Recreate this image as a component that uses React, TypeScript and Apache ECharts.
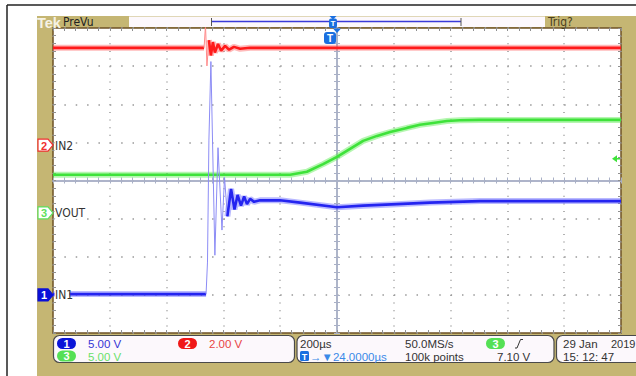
import React, { useEffect, useRef } from "react";
import * as echarts from "echarts";

// ---- acquisition settings ----
const timeMin = -1000; // µs, relative to the screen centre
const timeMax = 1000;
const timePerDiv = 200;
const channelNames = ["IN1", "IN2", "VOUT"];
const channelNumbers = ["1", "2", "3"];
const voltsPerDiv = [5, 2, 5];
const positionDiv = [-3.0, 0.93, -0.85];
const triggerLevel = 7.1; // V on CH3

// ---- CH1 IN1 (V) ----
const in1Before = [[-1000, 0.1], [-461, 0.1]];
const in1Edge = [
  [-461, 0.1], [-456, 4.3], [-451, 20.3], [-444, 30.6], [-430, 5.2], [-419, 19.3],
  [-405, 8.5], [-396, 15.4], [-386, 10.3],
];
const in1After = [
  [-386, 10.3], [-373, 13.9], [-361, 11.2], [-350, 13.1], [-338, 11.7], [-327, 12.9],
  [-317, 11.9], [-306, 12.6], [-292, 12.2], [-271, 12.4], [-201, 12.4], [-130, 12.1],
  [0, 11.5], [92, 11.7], [211, 11.9], [327, 12.1], [504, 12.3], [1000, 12.3],
];

// ---- CH2 IN2 (V) ----
const in2Before = [[-1000, 5.1], [-468, 5.1]];
const in2Spike = [[-468, 5.1], [-463, 6.3], [-458, 4.15], [-451, 5.5]];
const in2After = [
  [-451, 5.5], [-444, 4.7], [-437, 5.4], [-430, 4.85], [-419, 5.3], [-408, 4.95],
  [-394, 5.2], [-380, 5.0], [-363, 5.15], [-341, 5.05], [-306, 5.1], [1000, 5.1],
];

// ---- CH3 VOUT (V) ----
const vout = [
  [-1000, 5.0], [-165, 5.0], [-106, 5.4], [-49, 6.4], [0, 7.35], [46, 8.4], [92, 9.45],
  [141, 10.1], [187, 10.6], [246, 11.15], [292, 11.55], [338, 11.8], [387, 12.05],
  [433, 12.15], [504, 12.2], [1000, 12.2],
];

// ---- readout texts ----
const scaleTexts = ["5.00 V", "2.00 V", "5.00 V"];
const horizTexts = ["200µs", "50.0MS/s", "→▼24.0000µs", "100k points"];
const trigText = "7.10 V";
const dateTexts = ["29 Jan", "2019", "15: 12: 47"];

const FONT = '"Liberation Sans", Arial, sans-serif';
const NARROW = '"Liberation Sans Narrow", "DejaVu Sans Condensed", "Liberation Sans", sans-serif';
const RED = "#ff1a1a";
const GREEN = "#3ee23a";
const BLUE = "#2424f0";
const TBLUE = "#1a6fe0";

function trace(data: number[][], color: string, halo: string, yAxisIndex: number) {
  return [
    { type: "line", data, xAxisIndex: 0, yAxisIndex, symbol: "none", silent: true, z: 2,
      lineStyle: { color: halo, width: 6 }, emphasis: { disabled: true } },
    { type: "line", data, xAxisIndex: 0, yAxisIndex, symbol: "none", silent: true, z: 3,
      lineStyle: { color, width: 2.6 }, emphasis: { disabled: true } },
  ];
}
function thin(data: number[][], color: string, yAxisIndex: number) {
  return [{ type: "line", data, xAxisIndex: 0, yAxisIndex, symbol: "none", silent: true, z: 3,
    lineStyle: { color, width: 1 }, emphasis: { disabled: true } }];
}

function txt(text: string, x: number, y: number, fill: string, size = 11.5, extra: any = {}) {
  return {
    type: "text", z: 105,
    style: { text, x, y, fill, font: `${size}px ${FONT}`, textVerticalAlign: "middle", verticalAlign: "middle", ...extra },
  };
}
function pill(num: string, x: number, y: number, color: string) {
  return [
    { type: "rect", z: 99, shape: { x, y, width: 19, height: 11, r: 5.5 }, style: { fill: color } },
    txt(num, x + 9.5, y + 5.7, "#ffffff", 11, { textAlign: "center", align: "center", font: `bold 11px ${FONT}` }),
  ];
}

const tickStyle = { color: "#8f8f8f", width: 1 };
const dotColor = "#999999";
function edgeX(position: string, split: boolean) {
  return {
    type: "value", min: timeMin, max: timeMax, interval: timePerDiv, position,
    axisLine: { show: false, onZero: false }, axisLabel: { show: false },
    axisTick: { show: true, inside: true, length: 3, lineStyle: tickStyle },
    minorTick: { show: true, splitNumber: 5, length: 3, lineStyle: tickStyle },
    splitLine: { show: split, lineStyle: { color: dotColor, width: 1.5, type: [1, 6.625] } },
  };
}
function centreX(inside: boolean) {
  return {
    type: "value", min: timeMin, max: timeMax, interval: timePerDiv, position: "bottom",
    axisLine: { show: true, onZero: true, onZeroAxisIndex: 0, lineStyle: { color: "#a9b0c6", width: 1.5 } },
    axisLabel: { show: false },
    axisTick: { show: true, inside, length: 3, lineStyle: { color: "#a9b0c6" } },
    minorTick: { show: true, splitNumber: 5, length: 3, lineStyle: { color: "#a9b0c6" } },
    splitLine: { show: false },
  };
}
function edgeY(position: string, split: boolean) {
  return {
    type: "value", min: -4, max: 4, interval: 1, position,
    axisLine: { show: false, onZero: false }, axisLabel: { show: false },
    axisTick: { show: true, inside: true, length: 3, lineStyle: tickStyle },
    minorTick: { show: true, splitNumber: 5, length: 3, lineStyle: tickStyle },
    splitLine: { show: split, lineStyle: { color: dotColor, width: 1.5, type: [1.5, 9.86] } },
  };
}
function centreY(inside: boolean) {
  return {
    type: "value", min: -4, max: 4, interval: 1, position: "left",
    axisLine: { show: true, onZero: true, onZeroAxisIndex: 0, lineStyle: { color: "#a9b0c6", width: 1.5 } },
    axisLabel: { show: false },
    axisTick: { show: true, inside, length: 3, lineStyle: { color: "#a9b0c6" } },
    minorTick: { show: true, splitNumber: 5, length: 3, lineStyle: { color: "#a9b0c6" } },
    splitLine: { show: false },
  };
}
function channelY(i: number) {
  return {
    type: "value", show: false,
    min: (-4 - positionDiv[i]) * voltsPerDiv[i],
    max: (4 - positionDiv[i]) * voltsPerDiv[i],
    axisLine: { onZero: false },
  };
}

export default function App() {
  const ref = useRef<HTMLDivElement>(null);
  useEffect(() => {
    if (!ref.current) return;
    const chart = echarts.init(ref.current, undefined, { renderer: "svg" });
    chart.setOption({
      animation: false,
      backgroundColor: "#ffffff",
      grid: {
        left: 53, top: 28, width: 568, height: 305, show: true, backgroundColor: "#ffffff",
        borderColor: "#6e5226", borderWidth: 1.5, outerBoundsMode: "none", containLabel: false,
      },
      xAxis: [edgeX("bottom", true), edgeX("top", false), centreX(false), centreX(true)],
      yAxis: [edgeY("left", true), edgeY("right", false), centreY(false), centreY(true),
        channelY(0), channelY(1), channelY(2)],
      series: [
        ...trace(vout, GREEN, "rgba(90,235,80,0.45)", 6),
        ...trace(in2Before, RED, "rgba(255,100,100,0.45)", 5),
        ...thin(in2Spike, "#ff8a8a", 5),
        ...trace(in2After, RED, "rgba(255,100,100,0.45)", 5),
        ...trace(in1Before, BLUE, "rgba(100,100,255,0.45)", 4),
        ...thin(in1Edge, "#8c8cf5", 4),
        ...trace(in1After, BLUE, "rgba(100,100,255,0.45)", 4),
      ],
    });

    const cx = chart.convertToPixel({ xAxisIndex: 0 }, 0) as number;
    const chY = [0, 1, 2].map((i) => chart.convertToPixel({ yAxisIndex: 4 + i }, 0) as number);
    const trigY = chart.convertToPixel({ yAxisIndex: 6 }, triggerLevel) as number;

    const markerColors = [
      { fill: "#0a10d8", stroke: "#0a10d8", text: "#ffffff" },
      { fill: "#ffffff", stroke: "#f03030", text: "#f03030" },
      { fill: "#ffffff", stroke: "#5ee05e", text: "#5ee05e" },
    ];
    const labelWidths = [15, 15, 26];
    const markers: any[] = [];
    [1, 2, 0].forEach((i) => {
      const y = chY[i];
      const c = markerColors[i];
      markers.push({
        type: "polygon", z: 100,
        shape: { points: [[38, y - 6], [48, y - 6], [53, y], [48, y + 6], [38, y + 6]] },
        style: { fill: c.fill, stroke: c.stroke, lineWidth: 1.2 },
      });
      markers.push(txt(channelNumbers[i], 44, y + 0.5, c.text, 11, { textAlign: "center", align: "center", font: `bold 11px ${FONT}` }));
      markers.push({ type: "rect", z: 98, shape: { x: 54.5, y: y - 6, width: labelWidths[i], height: 12 }, style: { fill: "#ffffff" } });
      markers.push(txt(channelNames[i], 55, y + 0.5, "#333333", 12, { font: `12px ${NARROW}` }));
    });

    const graphic: any[] = [
      { type: "rect", z: -10, shape: { x: 37, y: 16, width: 599, height: 360 }, style: { fill: "#c5b673" } },
      { type: "line", z: 10, shape: { x1: 7, y1: 5, x2: 7, y2: 376 }, style: { stroke: "#222222", lineWidth: 1.5 } },
      { type: "line", z: 10, shape: { x1: 7, y1: 5, x2: 636, y2: 5 }, style: { stroke: "#222222", lineWidth: 1.5 } },
      // top bar
      txt("Tek", 37, 22.5, "#f6f2e4", 14.5, { font: `bold 14.5px ${FONT}` }),
      txt("PreVu", 63, 22, "#222222", 12, { font: `12px ${NARROW}` }),
      { type: "rect", z: 50, shape: { x: 129, y: 16.5, width: 416, height: 10.5 }, style: { fill: "#fcf8fc" } },
      { type: "line", z: 51, shape: { x1: 212, y1: 21.5, x2: 461, y2: 21.5 }, style: { stroke: "#3a3ad8", lineWidth: 1.5 } },
      { type: "line", z: 51, shape: { x1: 211.5, y1: 18, x2: 211.5, y2: 26 }, style: { stroke: "#555555", lineWidth: 1 } },
      { type: "line", z: 51, shape: { x1: 461, y1: 18, x2: 461, y2: 26 }, style: { stroke: "#555555", lineWidth: 1 } },
      { type: "polygon", z: 52, shape: { points: [[cx - 7.5, 16], [cx - 0.5, 16], [cx - 4, 19.5]] }, style: { fill: TBLUE } },
      { type: "rect", z: 52, shape: { x: cx - 8, y: 18.5, width: 8, height: 9.5, r: 2 }, style: { fill: TBLUE } },
      txt("T", cx - 4, 23.5, "#ffffff", 8, { textAlign: "center", align: "center", font: `bold 8px ${FONT}` }),
      txt("Trig?", 548, 22, "#4a4020", 12, { font: `12px ${NARROW}` }),
      // trigger position marker
      { type: "polygon", z: 101, shape: { points: [[cx - 4, 28.5], [cx + 4, 28.5], [cx, 33]] }, style: { fill: TBLUE } },
      { type: "rect", z: 101, shape: { x: cx - 13, y: 32, width: 12, height: 12, r: 3 }, style: { fill: TBLUE } },
      txt("T", cx - 7, 38.5, "#ffffff", 10, { textAlign: "center", align: "center", font: `bold 10px ${FONT}` }),
      // trigger level arrow
      { type: "polygon", z: 101, shape: { points: [[612, trigY], [617, trigY - 3.5], [617, trigY + 3.5]] }, style: { fill: GREEN } },
      { type: "line", z: 101, shape: { x1: 616, y1: trigY, x2: 620, y2: trigY }, style: { stroke: GREEN, lineWidth: 1.5 } },
      ...markers,
      // readout boxes
      { type: "rect", z: 90, shape: { x: 53.5, y: 335.5, width: 241, height: 27, r: 6 }, style: { fill: "#fcf8fc", stroke: "#4a4a4a", lineWidth: 1.2 } },
      { type: "rect", z: 90, shape: { x: 297, y: 335.5, width: 257, height: 27, r: 6 }, style: { fill: "#fcf8fc", stroke: "#4a4a4a", lineWidth: 1.2 } },
      { type: "rect", z: 90, shape: { x: 556.5, y: 335.5, width: 95, height: 27, r: 6 }, style: { fill: "#fcf8fc", stroke: "#4a4a4a", lineWidth: 1.2 } },
      ...pill("1", 57, 338, "#0a14d8"),
      txt(scaleTexts[0], 88, 344, "#3535d5"),
      ...pill("2", 178, 338, "#f01818"),
      txt(scaleTexts[1], 209, 344, "#e84545"),
      ...pill("3", 57, 350.5, "#55e055"),
      txt(scaleTexts[2], 88, 356.5, "#6ae06a"),
      txt(horizTexts[0], 300, 344, "#333333"),
      txt(horizTexts[1], 405, 344, "#333333"),
      ...pill("3", 486, 338, "#55e055"),
      { type: "polyline", z: 100, shape: { points: [[515, 348], [517, 348], [520.5, 339.5], [523, 339.5]] }, style: { stroke: "#333333", lineWidth: 1, fill: null } },
      { type: "rect", z: 99, shape: { x: 300, y: 351, width: 9, height: 10, r: 1.5 }, style: { fill: TBLUE } },
      txt("T", 304.5, 356.5, "#ffffff", 9, { textAlign: "center", align: "center", font: `bold 9px ${FONT}` }),
      txt(horizTexts[2], 310, 356.5, "#3a8ae8"),
      txt(horizTexts[3], 405, 356.5, "#333333"),
      txt(trigText, 497, 356.5, "#333333"),
      txt(dateTexts[0], 563, 344, "#333333"),
      txt(dateTexts[1], 611, 344, "#333333", 11),
      txt(dateTexts[2], 563, 356.5, "#333333"),
    ];
    chart.setOption({ graphic });
    return () => chart.dispose();
  }, []);
  return <div ref={ref} style={{ position: "fixed", left: 0, top: 0, width: 636, height: 376 }} />;
}
